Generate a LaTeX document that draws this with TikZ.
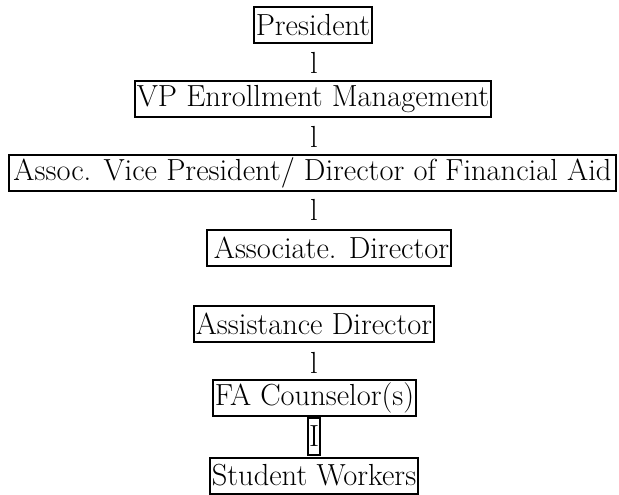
\documentclass[tikz,border=0pt]{standalone}
\usepackage{fontspec}
\begin{document}
\begin{tikzpicture}[x=1pt,y=-1pt,
  every node/.style={font=\fontsize{30.5}{34}\selectfont},
  box/.style={draw, line width=2pt, inner xsep=2pt, inner ysep=0pt, minimum height=36pt},
  link/.style={inner sep=0pt},
  ibox/.style={draw, line width=2pt, inner sep=0pt, minimum width=12pt, minimum height=37pt}]
\useasboundingbox (0,0) rectangle (619,495);
\node[box] (pres) at (313,25.5) {President};
\node[link] (l1) at (314,63) {l};
\node[box] (vp) at (313,99) {VP Enrollment Management};
\node[link] (l2) at (314,137) {l};
\node[box, minimum width=607pt] (avp) at (312.5,172.5) {Assoc. Vice President/ Director of Financial Aid};
\node[link] (l3) at (314,210) {l};
\node[box] (assoc) at (329,248) {\hspace{5pt}Associate. Director};
\node[box] (asst) at (314,323.5) {Assistance Director};
\node[link] (l4) at (314,363) {l};
\node[box] (fa) at (314.5,398) {FA Counselor(s)};
\node[ibox] (ib) at (314,436.5) {I};
\node[box] (sw) at (314,475.5) {Student Workers};
\end{tikzpicture}
\end{document}
